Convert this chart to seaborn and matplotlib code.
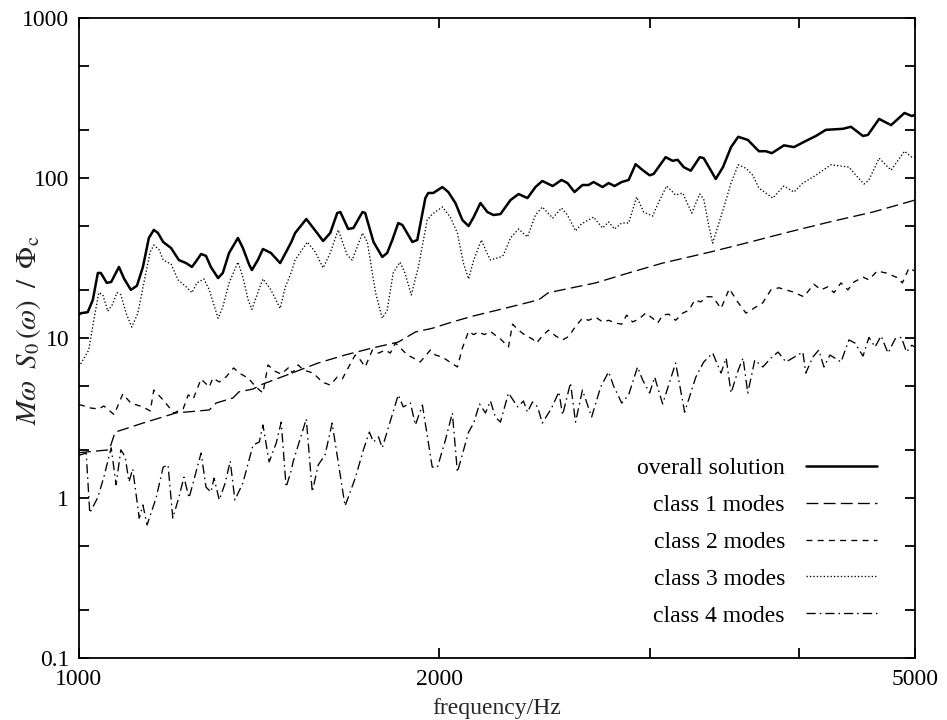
"""Mean-square response spectrum split by mode class (log-log)."""

import matplotlib
matplotlib.use("Agg")
import matplotlib.pyplot as plt
import matplotlib.ticker as mtick
import seaborn as sns

# overall solution
overall_f = [1000, 1004, 1017, 1027, 1037, 1043, 1055, 1064, 1080, 1091, 1105, 1118, 1131, 1144,
             1155, 1164, 1176, 1194, 1212, 1229, 1243, 1255, 1265, 1277, 1289, 1307, 1319, 1335,
             1358, 1371, 1388, 1395, 1411, 1425, 1447, 1473, 1490, 1505, 1516, 1549, 1570, 1600,
             1622, 1644, 1654, 1679, 1696, 1726, 1735, 1763, 1793, 1810, 1828, 1849, 1864, 1900,
             1918, 1948, 1959, 1978, 2013, 2036, 2064, 2092, 2117, 2138, 2166, 2195, 2221, 2251,
             2295, 2331, 2371, 2408, 2440, 2489, 2532, 2561, 2596, 2636, 2667, 2693, 2740, 2772,
             2804, 2843, 2881, 2920, 2960, 3000, 3023, 3094, 3136, 3166, 3203, 3247, 3304, 3329,
             3374, 3407, 3455, 3509, 3558, 3624, 3702, 3752, 3796, 3885, 3961, 4037, 4131, 4212,
             4352, 4420, 4524, 4567, 4666, 4775, 4900, 4969, 5000]
overall_v = [14.0, 14.3, 14.5, 17.3, 25.5, 25.5, 22.1, 22.4, 27.8, 23.4, 20.0, 21.2, 27.8, 42.2,
             47.4, 45.4, 39.8, 36.5, 30.7, 29.4, 27.8, 30.7, 33.5, 32.6, 27.8, 23.7, 25.5, 34.0,
             42.2, 36.5, 28.6, 26.6, 30.7, 36.0, 34.0, 29.4, 34.5, 39.8, 45.3, 55.4, 48.7, 40.4,
             45.3, 60.4, 61.3, 48.0, 48.7, 61.3, 60.4, 39.8, 32.1, 34.0, 41.0, 52.3, 50.8, 39.8,
             41.0, 74.9, 80.6, 80.6, 87.8, 81.7, 69.8, 54.6, 50.1, 57.0, 69.8, 61.3, 58.7, 59.5,
             72.8, 79.4, 74.9, 87.8, 95.8, 89.1, 97.2, 93.0, 81.7, 90.4, 90.4, 94.4, 87.8, 93.0,
             89.1, 94.4, 97.2, 122, 112, 104, 106, 135, 128, 130, 117, 111, 135, 133,
             112, 98.6, 117, 156, 181, 173, 147, 147, 143, 160, 156, 168, 183, 200,
             203, 209, 183, 186, 234, 214, 255, 244, 248]

# class 1 modes
class1_f = [1000, 1060, 1072, 1131, 1205, 1285, 1302, 1345, 1361, 1398, 1425, 1462, 1499, 1585,
            1669, 1759, 1849, 1911, 1974, 2052, 2134, 2251, 2422, 2469, 2704, 2881, 3076, 3374,
            3611, 3923, 4236, 4612, 5000]
class1_v = [1.92, 2.00, 2.58, 2.94, 3.40, 3.55, 3.92, 4.22, 4.61, 4.80, 5.16, 5.54, 5.95, 6.98,
            7.83, 8.66, 9.43, 10.9, 11.5, 12.6, 13.7, 15.1, 17.3, 19.2, 22.1, 25.5, 29.4, 34.5,
            39.2, 46.0, 53.0, 61.3, 72.8]

# class 2 modes
class2_f = [1000, 1004, 1023, 1039, 1049, 1070, 1088, 1105, 1131, 1147, 1155, 1176, 1200, 1222,
            1234, 1246, 1265, 1285, 1294, 1310, 1327, 1347, 1361, 1385, 1406, 1425, 1439, 1457,
            1476, 1499, 1508, 1525, 1540, 1570, 1597, 1622, 1644, 1660, 1679, 1702, 1719, 1735,
            1759, 1780, 1804, 1821, 1839, 1864, 1882, 1904, 1929, 1967, 1986, 2013, 2036, 2072,
            2092, 2117, 2138, 2157, 2183, 2208, 2229, 2251, 2286, 2304, 2331, 2361, 2394, 2413,
            2440, 2469, 2503, 2537, 2566, 2601, 2636, 2667, 2704, 2740, 2772, 2810, 2843, 2870,
            2903, 2937, 2977, 3017, 3047, 3076, 3112, 3154, 3197, 3235, 3273, 3310, 3348, 3387,
            3442, 3497, 3558, 3611, 3680, 3730, 3789, 3848, 3953, 4037, 4115, 4172, 4228, 4278,
            4336, 4394, 4446, 4524, 4576, 4648, 4729, 4842, 4880, 4943, 5000]
class2_v = [3.81, 3.81, 3.65, 3.60, 3.76, 3.32, 4.47, 3.92, 3.71, 3.50, 4.73, 4.10, 3.40, 3.60,
            4.41, 4.16, 5.54, 4.94, 5.62, 5.31, 5.70, 6.50, 6.04, 5.62, 4.94, 4.53, 6.79, 6.22,
            5.95, 6.59, 6.04, 6.79, 6.31, 6.04, 5.31, 5.08, 5.70, 5.54, 6.50, 7.83, 7.28, 6.59,
            8.41, 8.05, 8.41, 8.05, 9.30, 8.41, 7.83, 7.49, 7.08, 8.41, 7.83, 7.60, 7.18, 6.59,
            8.66, 11.0, 10.5, 10.9, 10.5, 11.0, 10.4, 9.86, 8.79, 12.2, 11.2, 10.4, 9.86, 9.30,
            10.3, 11.2, 10.3, 9.73, 10.2, 11.8, 13.3, 12.9, 13.5, 12.6, 12.9, 12.4, 12.2, 13.9,
            12.6, 13.1, 14.3, 13.3, 12.4, 13.9, 14.1, 12.9, 14.3, 14.9, 17.3, 16.8, 18.1, 18.1,
            15.3, 20.3, 16.6, 14.3, 15.6, 16.6, 20.0, 20.6, 19.4, 18.1, 21.7, 20.0, 20.9, 19.2,
            22.1, 20.0, 22.4, 24.0, 23.1, 26.2, 25.5, 23.7, 22.1, 27.4, 26.2]

# class 3 modes
class3_f = [1000, 1019, 1029, 1039, 1047, 1057, 1066, 1076, 1084, 1095, 1107, 1120, 1133, 1147,
            1155, 1167, 1176, 1194, 1210, 1229, 1243, 1255, 1272, 1285, 1307, 1319, 1335, 1358,
            1371, 1385, 1395, 1411, 1425, 1447, 1473, 1487, 1505, 1516, 1552, 1576, 1600, 1622,
            1647, 1676, 1692, 1726, 1742, 1770, 1793, 1810, 1831, 1855, 1873, 1896, 1922, 1955,
            1974, 2013, 2044, 2072, 2096, 2117, 2138, 2170, 2191, 2208, 2251, 2264, 2295, 2331,
            2371, 2408, 2440, 2489, 2532, 2561, 2601, 2631, 2693, 2740, 2772, 2804, 2843, 2881,
            2926, 2966, 3017, 3053, 3100, 3154, 3197, 3253, 3304, 3329, 3361, 3387, 3455, 3509,
            3558, 3611, 3659, 3702, 3802, 3885, 3961, 4029, 4131, 4253, 4403, 4463, 4533, 4576,
            4666, 4775, 4900, 4969, 5000]
class3_v = [6.6, 8.41, 13.0, 19.2, 18.6, 14.7, 16.1, 19.2, 18.6, 14.3, 11.7, 14.3, 22.1, 34.5,
            38.1, 35.5, 30.7, 29.0, 23.1, 20.9, 19.2, 22.1, 23.4, 20.0, 13.3, 15.6, 22.1, 29.8,
            24.0, 17.3, 15.1, 19.2, 23.4, 20.0, 15.3, 20.6, 25.8, 30.7, 39.8, 34.5, 27.4, 34.0,
            47.4, 33.0, 30.7, 45.3, 39.8, 19.2, 13.3, 14.9, 25.5, 29.8, 25.5, 18.6, 27.8, 54.6,
            59.5, 65.9, 57.0, 45.3, 29.4, 23.4, 30.7, 41.0, 34.5, 30.7, 32.1, 33.0, 42.2, 48.0,
            42.8, 58.7, 65.9, 56.2, 64.9, 58.7, 46.7, 51.6, 57.0, 48.7, 53.1, 48.0, 52.3, 52.3,
            76.1, 61.3, 57.8, 70.8, 89.1, 78.3, 80.6, 60.4, 79.4, 73.8, 50.8, 39.2, 63.1, 93.0,
            121, 115, 104, 86.6, 74.9, 89.1, 81.7, 93.0, 104, 121, 117, 104, 91.7, 97.2,
            133, 112, 147, 135, 135]

# class 4 modes
class4_f = [1000, 1014, 1021, 1037, 1049, 1064, 1074, 1084, 1093, 1101, 1109, 1123, 1131, 1140,
            1160, 1176, 1187, 1198, 1212, 1224, 1236, 1265, 1277, 1289, 1297, 1310, 1325, 1338,
            1350, 1371, 1398, 1415, 1425, 1442, 1462, 1476, 1490, 1505, 1510, 1549, 1567, 1585,
            1606, 1628, 1669, 1702, 1729, 1749, 1763, 1780, 1793, 1849, 1867, 1893, 1911, 1937,
            1974, 1994, 2025, 2052, 2072, 2117, 2138, 2162, 2187, 2208, 2229, 2251, 2286, 2327,
            2353, 2371, 2394, 2418, 2440, 2484, 2519, 2537, 2576, 2601, 2636, 2683, 2730, 2772,
            2799, 2843, 2881, 2931, 2960, 3000, 3029, 3076, 3154, 3209, 3279, 3329, 3387, 3442,
            3476, 3509, 3558, 3591, 3624, 3673, 3730, 3789, 3841, 3900, 4029, 4052, 4107, 4155,
            4196, 4245, 4336, 4403, 4454, 4524, 4576, 4630, 4684, 4747, 4812, 4871, 4919, 4969,
            5000]
class4_v = [1.85, 1.91, 0.806, 1.01, 1.35, 2.06, 1.21, 2.00, 1.81, 1.26, 1.52, 0.749, 0.904, 0.678,
            1.00, 1.56, 1.61, 0.749, 1.01, 1.35, 1.00, 1.91, 1.17, 1.09, 1.33, 0.972, 1.24, 1.70,
            0.972, 1.24, 2.14, 2.24, 2.86, 1.68, 2.21, 2.98, 1.17, 1.49, 1.68, 3.12, 1.09, 1.61,
            1.86, 2.94, 0.891, 1.33, 2.00, 2.58, 2.24, 2.41, 2.06, 4.41, 3.71, 3.92, 2.86, 3.81,
            1.56, 1.56, 2.31, 3.40, 1.45, 2.58, 2.94, 3.87, 3.40, 4.04, 3.21, 2.98, 4.53, 3.71,
            4.04, 3.44, 3.98, 3.71, 2.94, 3.65, 4.61, 3.30, 5.24, 2.98, 4.73, 3.21, 4.94, 6.14,
            5.01, 3.92, 4.41, 6.59, 5.46, 4.53, 5.70, 3.87, 6.98, 3.44, 5.70, 7.08, 8.05, 6.04,
            7.49, 4.53, 6.31, 7.49, 4.53, 7.28, 6.59, 7.49, 8.17, 7.08, 8.17, 6.04, 7.60, 8.41,
            6.59, 7.83, 7.08, 9.73, 9.30, 7.71, 10.1, 8.79, 10.3, 8.05, 9.86, 10.1, 8.17, 9.01,
            8.79]

x_ticks = [1000, 2000, 3000, 4000, 5000]
x_tick_labels = ["1000", "2000", "", "", "5000"]
y_ticks = [0.1, 1, 10, 100, 1000]
y_tick_labels = ["0.1", "1", "10", "100", "1000"]

SERIES = [
    ("overall solution", overall_f, overall_v, "-", 1.8),
    ("class 1 modes", class1_f, class1_v, (0, (9, 4)), 0.95),
    ("class 2 modes", class2_f, class2_v, (0, (4.5, 4)), 0.95),
    ("class 3 modes", class3_f, class3_v, (0, (1, 1.6)), 0.95),
    ("class 4 modes", class4_f, class4_v, (0, (7, 3, 1.2, 3)), 0.95),
]


def setup_style():
    sns.set_theme(style="ticks")
    plt.rcParams.update(
        {
            "font.family": ["Liberation Serif", "DejaVu Serif"],
            "mathtext.fontset": "stix",
            "font.size": 17,
            "axes.linewidth": 1.3,
            "axes.edgecolor": "black",
            "text.color": "black",
            "xtick.color": "black",
            "ytick.color": "black",
            "xtick.direction": "in",
            "ytick.direction": "in",
            "xtick.top": True,
            "ytick.right": True,
        }
    )


def main():
    setup_style()
    fig = plt.figure(figsize=(9.47, 7.2), dpi=100)
    ax = fig.add_axes([0.0834, 0.0861, 0.8828, 0.8889])

    for label, f, v, ls, lw in SERIES:
        sns.lineplot(x=f, y=v, ax=ax, color="black", linewidth=lw, linestyle=ls,
                     label=label, estimator=None, sort=False)

    ax.set_xscale("log")
    ax.set_yscale("log")
    ax.set_xlim(1000, 5000)
    ax.set_ylim(0.1, 1000)

    ax.xaxis.set_minor_locator(mtick.NullLocator())
    ax.set_xticks(x_ticks, labels=x_tick_labels)
    ax.set_yticks(y_ticks, labels=y_tick_labels)
    ax.yaxis.set_minor_locator(mtick.LogLocator(base=10, subs=[2, 5]))
    ax.yaxis.set_minor_formatter(mtick.NullFormatter())
    ax.tick_params(which="both", length=7, width=1.3, labelsize=17)
    ax.tick_params(axis="y", pad=7)
    ax.tick_params(axis="x", pad=8)

    ax.set_xlabel("frequency/Hz", fontsize=17, labelpad=6)
    ax.set_ylabel(r"$M\omega\;\;S_0\,(\omega)\;\;/\;\;\Phi_{\mathrm{c}}$", fontsize=21)
    ax.yaxis.set_label_coords(-0.043, 0.512)

    leg = ax.legend(loc="lower right", bbox_to_anchor=(0.98, 0.016), frameon=False,
                    markerfirst=False, fontsize=17, handlelength=3.0, handletextpad=0.9,
                    labelspacing=0.65)
    for t in leg.get_texts():
        t.set_ha("right")
    leg._legend_box.align = "right"

    fig.savefig("out.png", dpi=100, facecolor="white")
    plt.close(fig)


if __name__ == "__main__":
    main()
